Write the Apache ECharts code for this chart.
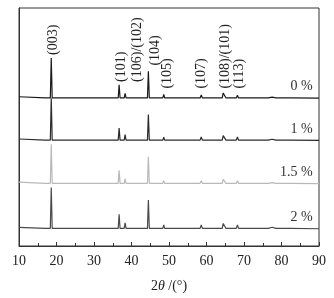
<!DOCTYPE html>
<html lang="zh_CN">
<head>
  <meta charset="UTF-8">
  <title>XRD</title>
  <script src="https://cdn.jsdelivr.net/npm/echarts@6/dist/echarts.min.js"></script>
  <style>
    html, body { margin: 0; padding: 0; background: #fff; }
  </style>
</head>
<body>
<div id="main" style="width: 334px;height:298px;"></div>
<script>
  // 2θ sample points (peak feet and tops)
  var twoTheta = [10, 17, 18.35, 18.6, 18.85, 36.45, 36.7, 36.95, 38.05, 38.3, 38.55,
    44.25, 44.5, 44.75, 48.35, 48.6, 48.85, 58.3, 58.6, 58.9,
    64.2, 64.45, 64.7, 64.95, 65.2, 67.95, 68.25, 68.55,
    76.5, 77.5, 78.5, 81.9, 82.2, 82.5, 90];

  // intensities (arbitrary units) for each doping level
  var int0 = [1.5, 0.3, 0.3, 42, 0.3, 0.3, 14, 0.3, 0.3, 5, 0.3,
    0.3, 28, 0.3, 0.3, 4, 0.3, 0.3, 3.5, 0.3,
    0.3, 5.5, 3.5, 5.5, 0.3, 0.3, 3, 0.3,
    0.3, 1.2, 0.3, 0.3, 2, 0.3, 0];
  var int1 = [1.5, 0.3, 0.3, 44, 0.3, 0.3, 13, 0.3, 0.3, 6, 0.3,
    0.3, 27, 0.3, 0.3, 3.5, 0.3, 0.3, 3.5, 0.3,
    0.3, 5, 4, 5, 0.3, 0.3, 3.5, 0.3,
    0.3, 1.2, 0.3, 0.3, 2, 0.3, 0];
  var int15 = [1.5, 0.3, 0.3, 41, 0.3, 0.3, 14, 0.3, 0.3, 5, 0.3,
    0.3, 28, 0.3, 0.3, 3, 0.3, 0.3, 3, 0.3,
    0.3, 4.5, 3.5, 4.5, 0.3, 0.3, 3, 0.3,
    0.3, 1, 0.3, 0.3, 1.5, 0.3, 0];
  var int2 = [1.5, 0.3, 0.3, 43, 0.3, 0.3, 15, 0.3, 0.3, 6, 0.3,
    0.3, 30, 0.3, 0.3, 4, 0.3, 0.3, 4, 0.3,
    0.3, 5.5, 4, 5.5, 0.3, 0.3, 4, 0.3,
    0.3, 1.5, 0.3, 0.3, 2, 0.3, 0];

  var sampleNames = ['0 %', '1 %', '1.5 %', '2 %'];
  var sampleValues = [int0, int1, int15, int2];
  var offsets = [154, 110, 65, 18];
  var colors = ['#1a1a1a', '#2b2b2b', '#b9b9b9', '#4a4a4a'];

  // peak labels: text, 2θ of label, level of label foot
  var peakLabels = ['(003)', '(101)', '(106)/(102)', '(104)', '(105)', '(107)', '(108)/(101)', '(113)'];
  var peakLabelX = [19.1, 37.2, 41.6, 46.3, 49.5, 58.7, 64.9, 68.7];
  var peakLabelY = [199, 171, 171, 188, 164, 164, 164, 164];

  var serif = '"Liberation Serif", "Times New Roman", serif';

  var series = sampleNames.map(function (name, k) {
    var s = {
      name: name,
      type: 'line',
      showSymbol: false,
      silent: true,
      animation: false,
      clip: false,
      lineStyle: { color: colors[k], width: 1.2 },
      data: twoTheta.map(function (x, i) { return [x, sampleValues[k][i] + offsets[k]]; }),
      markPoint: {
        symbol: 'circle',
        symbolSize: 0,
        silent: true,
        label: {
          show: true,
          formatter: '{b}',
          position: 'inside',
          align: 'right',
          verticalAlign: 'middle',
          fontFamily: serif,
          fontSize: 14,
          color: '#333'
        },
        data: [{ name: name, coord: [88.3, offsets[k] + 12] }]
      }
    };
    if (k === 0) {
      peakLabels.forEach(function (t, j) {
        s.markPoint.data.push({
          name: t,
          coord: [peakLabelX[j], peakLabelY[j]],
          label: { rotate: 90, align: 'left', verticalAlign: 'middle', color: '#222' }
        });
      });
    }
    return s;
  });

  var myChart = echarts.init(document.querySelector('#main'), null, {renderer: 'canvas'});
  myChart.setOption({
    backgroundColor: '#fff',
    animation: false,
    grid: {
      left: 19, right: 15, top: 8, bottom: 42,
      show: true, borderColor: '#333', borderWidth: 1
    },
    xAxis: {
      type: 'value',
      min: 10, max: 90, interval: 10,
      name: '2{i|θ} /(°)',
      nameLocation: 'middle',
      nameGap: 33,
      nameTextStyle: {
        fontFamily: serif, fontSize: 14, color: '#222',
        rich: { i: { fontFamily: serif, fontSize: 14, fontStyle: 'italic', color: '#222' } }
      },
      axisLine: { lineStyle: { color: '#333', width: 1 } },
      axisTick: { inside: true, length: 4, lineStyle: { color: '#333' } },
      minorTick: { show: true, splitNumber: 2, length: 3, lineStyle: { color: '#333' } },
      axisLabel: { margin: 8, fontFamily: serif, fontSize: 14, color: '#222' },
      splitLine: { show: false }
    },
    yAxis: {
      type: 'value',
      min: 0, max: 248,
      axisLine: { show: true, lineStyle: { color: '#333' } },
      axisTick: { show: false },
      axisLabel: { show: false },
      splitLine: { show: false }
    },
    series: series
  });
</script>
</body>
</html>
